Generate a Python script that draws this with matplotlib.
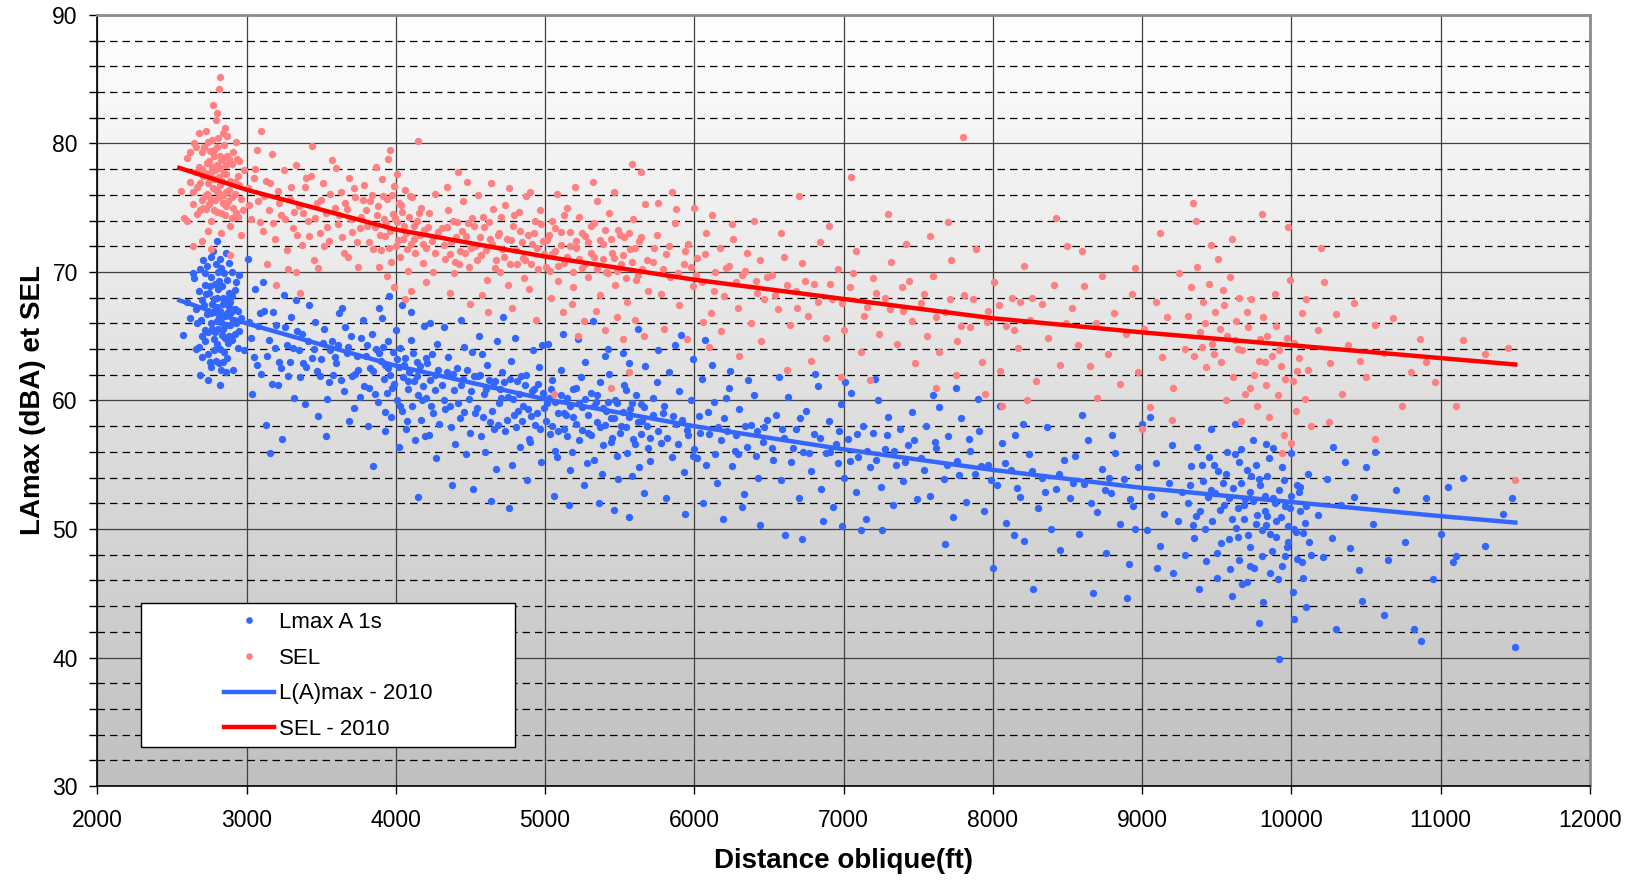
import numpy as np
import matplotlib
matplotlib.use("Agg")
import matplotlib.pyplot as plt
from matplotlib.colors import LinearSegmentedColormap
from matplotlib.patches import Rectangle
from matplotlib.ticker import MultipleLocator

plt.rcParams["font.family"] = ["Liberation Sans", "DejaVu Sans"]

# Lmax A 1s points (distance ft, dBA)
lmax_points = [
    (2620,66.4),(2650,69.5),(2680,64.2),(2700,67.8),(2710,70.9),(2720,65.5),(2730,68.3),(2740,63.6),(2750,66.9),(2760,71.2),
    (2770,67.5),(2780,64.8),(2790,69.1),(2800,66.2),(2805,72.4),(2810,68.7),(2815,62.9),(2820,67.0),(2830,70.3),(2835,65.1),
    (2840,68.0),(2850,63.8),(2855,66.6),(2860,71.5),(2870,69.4),(2875,64.5),(2880,67.3),(2890,65.9),(2900,70.0),(2910,62.4),
    (2920,68.6),(2930,66.0),(2940,64.1),(2950,69.8),(2690,62.0),(2745,61.6),(2795,63.1),(2825,61.2),(2865,62.2),(2660,67.1),
    (2725,69.9),(2765,66.0),(2785,67.9),(2845,65.6),(2885,68.4),(2925,67.1),(2705,65.0),(2755,68.9),(2815,66.5),(2575,65.1),
    (2600,67.7),(2640,69.9),(2960,66.4),(2980,63.9),(2870,66.8),(2790,65.3),(2735,66.7),(2810,70.0),(2850,67.7),(2895,66.9),
    (2660,64.0),(2670,66.0),(2680,68.5),(2690,70.2),(2695,66.3),(2700,63.4),(2715,67.4),(2720,69.0),(2725,64.6),(2735,70.5),
    (2740,67.0),(2745,65.3),(2750,68.4),(2755,63.0),(2760,66.8),(2765,69.6),(2770,65.6),(2775,71.6),(2780,67.0),(2785,63.9),
    (2790,66.9),(2795,70.6),(2800,68.0),(2800,64.4),(2805,67.3),(2810,65.6),(2815,69.3),(2820,64.0),(2825,71.0),(2830,66.1),
    (2835,68.9),(2840,63.0),(2845,67.5),(2850,69.9),(2855,64.9),(2860,67.9),(2865,65.9),(2870,63.3),(2880,70.7),(2885,65.0),
    (2890,67.7),(2900,64.7),(2905,68.1),(2910,66.3),(2920,65.2),(2930,69.2),(2940,67.0),(2950,65.4),(2830,62.4),(2760,62.6),
    (3020,66.1),(3050,63.4),(3080,65.8),(3100,62.1),(3120,67.0),(3150,64.7),(3170,61.3),(3200,65.9),(3220,63.0),(3250,68.2),
    (3270,64.3),(3300,66.5),(3320,60.2),(3350,63.9),(3370,65.2),(3400,62.6),(3420,67.4),(3450,64.0),(3480,58.8),(3500,63.2),
    (3520,65.6),(3550,61.4),(3570,64.6),(3600,62.9),(3620,66.8),(3650,60.7),(3670,63.7),(3700,65.0),(3720,59.4),(3750,62.4),
    (3770,64.9),(3790,61.1),(3040,60.5),(3130,58.1),(3180,66.9),(3280,61.9),(3330,67.8),(3390,59.7),(3460,66.1),(3530,57.2),
    (3580,62.0),(3640,67.2),(3690,58.4),(3740,63.5),(3060,68.7),(3110,69.2),(3230,62.5),(3310,64.1),(3360,61.8),(3440,63.3),
    (3490,61.9),(3560,63.9),(3610,64.3),(3660,65.7),(3710,61.9),(3780,66.3),(3160,55.9),(3240,57.0),(3850,54.9),(3010,71.0),
    (3030,64.9),(3070,62.8),(3090,66.8),(3140,63.5),(3190,64.1),(3210,61.2),(3260,65.7),(3290,63.0),(3340,65.4),(3380,62.9),
    (3410,64.6),(3470,62.3),(3510,64.5),(3540,60.1),(3590,63.4),(3630,61.6),(3680,64.2),(3730,62.1),(3760,60.3),(3810,64.3),
    (3830,62.5),(3860,60.5),(3890,63.7),(3915,64.2),(3945,62.5),(3975,61.0),(4005,63.2),(4025,59.6),(4055,62.8),(4085,61.5),
    (4115,63.7),(4145,61.9),(4175,60.0),(4205,63.3),(4235,59.6),(4265,62.0),(3925,59.1),(4075,58.4),(3815,58.0),(4195,57.2),
    (3800,63.5),(3820,61.0),(3840,65.2),(3850,62.3),(3870,64.0),(3880,59.9),(3900,63.1),(3910,66.4),(3920,61.7),(3930,62.8),
    (3940,60.6),(3950,64.6),(3960,62.0),(3970,58.7),(3980,63.8),(3990,61.3),(4000,65.5),(4010,60.0),(4020,62.6),(4030,64.1),
    (4040,59.2),(4050,61.8),(4060,63.3),(4070,57.8),(4080,60.9),(4090,62.2),(4100,64.7),(4110,59.6),(4120,61.5),(4130,56.9),
    (4140,63.0),(4150,60.4),(4160,62.7),(4170,58.5),(4180,61.1),(4190,65.8),(4200,60.2),(4210,62.9),(4220,57.3),(4230,61.6),
    (4240,63.6),(4250,59.0),(4260,60.8),(4270,55.5),(4280,62.4),(4290,58.2),(3890,67.2),(3955,68.1),(4045,67.4),(4105,66.9),
    (4150,52.5),(4020,56.4),(3930,57.6),(4230,66.0),(4275,64.4),
    (4310,61.2),(4330,59.3),(4350,63.4),(4370,57.9),(4390,60.8),(4410,62.5),(4430,58.6),(4450,61.7),(4470,55.8),(4490,60.1),
    (4510,63.8),(4530,59.0),(4550,61.9),(4570,57.2),(4590,60.5),(4610,62.8),(4630,58.3),(4650,61.1),(4670,54.7),(4690,59.8),
    (4710,62.2),(4730,57.6),(4750,60.3),(4770,63.1),(4790,58.9),(4810,61.5),(4830,56.4),(4850,59.6),(4870,62.0),(4890,57.0),
    (4910,60.7),(4930,58.1),(4950,61.3),(4970,55.2),(4990,59.4),(4320,65.7),(4440,66.3),(4560,65.0),(4680,64.6),(4800,64.9),
    (4920,63.9),(4380,53.4),(4520,53.1),(4640,52.2),(4760,51.6),(4880,53.8),(4400,56.6),(4600,56.0),(4700,60.9),(4820,59.2),
    (4460,64.2),(4580,63.6),(4720,66.5),(4840,61.9),(4960,62.6),(4500,57.5),(4660,57.8),(4780,55.0),(4900,56.8),(4980,64.3),
    (4320,60.0),(4345,62.2),(4365,59.6),(4385,62.1),(4415,59.8),(4435,61.2),(4455,59.1),(4480,62.4),(4505,60.7),(4525,61.9),
    (4545,59.4),(4565,62.0),(4585,58.7),(4605,60.9),(4625,61.6),(4645,59.2),(4665,61.5),(4685,58.1),(4705,60.2),(4725,61.4),
    (4745,58.5),(4765,61.7),(4785,60.1),(4805,57.9),(4825,60.5),(4845,58.4),(4865,61.2),(4885,59.3),(4905,58.8),(4925,60.9),
    (4945,59.0),(4965,57.8),(4985,60.6),(5005,58.4),(5025,60.2),(5045,58.0),(5065,59.9),(5085,57.6),(5105,60.4),(5125,59.0),
    (5145,57.2),(5165,59.6),(5185,60.9),(5205,58.2),(5225,59.8),(5245,57.7),(5265,60.1),(5285,58.9),(5305,57.3),(5325,59.6),
    (5345,60.4),(5365,57.9),(5385,59.4),(5405,58.1),(5425,59.9),(5445,56.8),(5465,58.6),(5485,59.8),(5505,57.5),(5525,59.1),
    (5545,57.9),(5565,58.7),(5585,59.8),(5605,56.6),(5625,58.3),(5645,57.4),(5665,59.5),(5685,58.0),(5705,57.1),(5725,60.2),
    (5760,57.6),(5790,59.0),(5820,57.1),(5860,58.8),(5890,56.6),(5920,58.5),(5960,57.3),(5990,55.7),
    (5010,59.8),(5030,57.4),(5050,61.6),(5070,56.1),(5090,59.0),(5110,62.4),(5130,57.8),(5150,60.2),(5170,54.6),(5190,58.7),
    (5210,61.0),(5230,56.9),(5250,59.5),(5270,63.0),(5290,57.5),(5310,60.6),(5330,55.4),(5350,58.3),(5370,61.4),(5390,56.5),
    (5410,59.2),(5430,62.1),(5450,57.1),(5470,60.0),(5490,53.9),(5510,58.0),(5530,61.2),(5550,55.9),(5570,59.3),(5590,57.0),
    (5610,60.4),(5630,54.8),(5650,58.4),(5670,62.7),(5690,56.3),(5020,64.4),(5120,65.2),(5220,64.8),(5320,66.2),(5420,64.0),
    (5520,63.7),(5620,65.6),(5060,52.6),(5160,51.9),(5260,53.4),(5360,52.0),(5460,51.5),(5560,50.9),(5660,52.8),(5080,55.6),
    (5180,56.0),(5280,55.1),(5380,54.3),(5480,55.7),(5580,54.1),(5040,60.9),(5140,58.9),(5240,61.8),(5340,59.9),(5440,58.6),
    (5540,60.8),(5640,59.7),(5700,55.3),(5560,62.9),(5400,63.5),
    (5720,58.9),(5750,61.4),(5780,56.7),(5800,59.6),(5830,62.2),(5850,55.6),(5880,58.2),(5900,60.7),(5930,54.4),(5950,57.7),
    (5980,60.0),(6000,56.2),(6030,58.8),(6050,61.7),(6080,55.0),(6100,57.4),(6130,59.9),(6150,53.6),(6180,56.9),(6200,58.6),
    (6230,61.0),(6250,54.9),(6280,57.3),(6300,59.3),(6330,52.7),(6350,56.4),(6380,58.1),(6400,60.4),(6430,54.0),(6460,56.8),
    (6490,58.5),(5760,63.9),(5870,64.3),(5990,63.2),(6120,62.8),(6240,62.3),(6360,61.6),(5810,52.4),(5940,51.2),(6060,52.0),
    (6190,50.8),(6320,51.7),(6440,50.3),(5910,65.1),(6070,64.7),(6210,60.2),(6020,55.5),(6160,57.9),(6290,55.8),(6420,57.6),
    (6040,57.5),(6090,59.1),(6140,55.8),(6220,57.6),(6270,56.1),(6340,58.0),(6410,55.7),(6470,57.9),(6530,55.4),(6590,57.8),
    (6660,56.3),(6710,58.6),(6770,55.9),(6840,57.1),(6910,56.0),(6970,57.6),(7040,55.3),(7090,57.4),(7160,56.1),(7220,55.4),
    (7290,57.3),(7340,56.1),(7410,55.2),(7470,56.9),(7540,54.6),(7620,56.3),(7690,55.0),(7770,54.2),(7840,57.0),(7920,54.9),
    (7990,53.8),(8080,55.1),(8160,53.2),(8260,54.5),(8350,52.9),(8440,54.3),(8540,53.6),(8660,52.0),(8780,54.0),(8920,52.3),
    (6520,56.3),(6550,58.9),(6580,53.8),(6600,57.1),(6630,60.3),(6650,55.2),(6680,57.8),(6700,52.4),(6730,56.0),(6750,59.2),
    (6780,54.5),(6800,57.4),(6830,61.1),(6850,53.1),(6880,55.9),(6900,58.4),(6930,51.7),(6950,56.6),(6980,59.7),(7000,54.0),
    (7030,57.0),(7050,60.6),(7080,52.9),(7100,55.6),(7130,58.0),(7150,50.8),(7180,54.8),(7200,57.5),(7230,60.0),(7250,53.3),
    (7280,56.2),(7300,58.7),(7330,51.9),(7350,55.0),(7380,57.8),(7400,53.7),(7430,56.5),(7460,59.1),(7490,52.3),(6610,49.5),
    (6720,49.2),(6860,50.6),(6990,50.2),(7120,49.9),(7260,49.9),(6570,61.8),(6810,62.1),(7010,61.4),(7210,61.7),(6960,55.1),
    (7520,55.5),(7550,58.0),(7580,52.6),(7610,56.8),(7640,59.5),(7670,53.9),(7700,57.2),(7730,50.9),(7760,55.3),(7790,58.6),
    (7820,52.1),(7850,56.1),(7880,54.3),(7910,57.6),(7940,51.4),(7970,55.0),(8000,47.0),(8030,53.4),(8060,56.7),(8090,50.5),
    (8120,54.6),(8150,57.3),(8180,52.5),(8210,49.1),(8240,55.8),(8270,45.3),(8300,51.6),(8330,54.0),(8360,57.9),(8390,50.0),
    (8420,53.1),(8450,48.4),(8480,55.4),(7600,60.4),(7750,61.0),(7900,60.1),(8050,59.6),(8200,58.2),(7680,48.8),(8140,49.5),
    (8520,52.4),(8550,55.7),(8580,49.6),(8610,53.5),(8640,56.9),(8670,45.0),(8700,51.3),(8730,54.7),(8760,48.1),(8790,52.8),
    (8820,55.9),(8850,50.4),(8880,53.9),(8910,47.3),(8940,51.8),(8970,54.8),(9000,58.2),(9030,49.9),(9060,52.6),(9090,55.1),
    (9120,48.7),(9150,51.2),(9180,53.6),(9210,46.6),(9240,50.6),(9270,52.9),(9290,48.0),(8600,58.9),(8800,57.3),(9050,58.7),
    (8900,44.6),(9100,47.0),(8750,53.0),(9200,56.5),(8950,50.0),
    (9310,52.0),(9330,54.9),(9350,49.3),(9370,56.4),(9390,51.4),(9410,53.7),(9430,47.5),(9450,55.6),(9470,50.6),(9490,52.8),
    (9510,54.5),(9530,48.9),(9550,51.9),(9570,56.0),(9590,46.9),(9610,53.2),(9630,50.1),(9650,55.2),(9670,45.7),(9690,52.3),
    (9710,49.5),(9730,54.1),(9750,47.0),(9770,51.1),(9790,53.4),(9810,44.3),(9830,50.3),(9850,55.5),(9870,48.3),(9890,52.0),
    (9910,46.1),(9930,50.9),(9950,53.8),(9970,48.6),(9990,51.6),(10010,45.1),(10030,49.8),(10050,52.9),(10070,47.4),(10090,50.5),
    (10110,54.3),(10130,48.0),(9920,39.9),(9780,42.7),(10020,43.0),(10100,43.9),(9650,47.6),(9860,46.6),(9740,56.9),(9460,57.8),
    (9580,49.2),(9680,50.8),(9820,52.6),(9960,47.9),(10060,51.4),(9380,45.3),(9500,46.2),(9620,58.2),(9880,56.3),(10000,55.9),
    (9340,50.3),(9440,52.5),(9540,53.6),(9640,51.6),(9720,52.9),(9800,49.9),(9840,51.0),(9900,49.4),(9940,54.8),(9980,50.2),
    (10040,53.4),(9760,55.0),(9600,44.8),(9700,45.9),(10080,46.2),
    (9320,53.4),(9360,51.0),(9400,55.0),(9420,50.0),(9460,53.0),(9480,55.0),(9520,51.5),(9560,54.3),(9580,52.4),(9600,50.8),
    (9620,55.8),(9640,49.4),(9660,53.6),(9680,51.9),(9700,54.6),(9720,48.6),(9740,52.2),(9760,50.4),(9780,53.9),(9800,47.9),
    (9820,51.4),(9840,54.1),(9860,49.6),(9880,52.4),(9900,50.6),(9920,53.0),(9940,47.1),(9960,51.8),(9980,49.0),(10000,52.6),
    (10020,50.0),(10040,47.7),(10060,53.3),(10080,49.7),(10100,51.8),(10120,49.0),(9660,56.2),(9830,56.6),(9500,48.1),(9720,47.1),
    (10180,51.1),(10210,47.8),(10240,53.9),(10270,49.3),(10300,42.2),(10330,51.9),(10360,55.2),(10390,48.5),(10420,52.5),(10450,46.8),
    (10500,54.8),(10550,50.4),(10620,43.3),(10650,47.6),(10700,53.0),(10760,49.0),(10820,42.2),(10870,41.3),(10900,52.4),(10950,46.1),
    (11000,49.6),(11080,47.4),(11150,54.0),(11300,48.7),(11420,51.2),(11480,52.4),(11500,40.8),(10280,56.4),(10560,56.0),(11100,47.9),
    (11050,53.3),(10470,44.4),
]

# SEL points (distance ft, dBA)
sel_points = [
    (2560,76.3),(2580,74.2),(2600,78.9),(2620,77.0),(2640,75.3),(2650,80.0),(2670,76.6),(2680,78.2),(2690,74.8),(2700,79.3),
    (2710,77.5),(2720,75.9),(2730,81.0),(2740,76.9),(2750,78.6),(2760,74.0),(2770,80.3),(2780,77.2),(2790,75.6),(2800,79.7),
    (2805,82.4),(2810,76.2),(2815,84.2),(2820,78.1),(2825,85.2),(2830,74.6),(2840,80.8),(2850,77.7),(2860,75.1),(2870,79.0),
    (2880,76.4),(2890,73.6),(2900,78.4),(2910,75.0),(2920,77.0),(2930,80.1),(2940,74.3),(2950,76.8),(2960,72.9),(2980,77.9),
    (2700,72.4),(2760,71.8),(2830,73.0),(2890,71.3),(2600,74.0),(2660,79.7),(2735,76.1),(2785,79.0),(2845,76.0),(2795,81.8),
    (2775,83.0),(2865,78.3),(2705,75.6),(2745,73.2),(2815,77.4),(2855,81.2),(2935,78.8),(2640,72.0),(2905,74.2),(2755,77.4),
    (2620,79.3),(2640,76.2),(2660,77.8),(2670,74.5),(2680,80.8),(2690,76.9),(2700,78.0),(2710,75.0),(2715,79.7),(2720,77.7),
    (2730,74.9),(2735,78.5),(2740,80.1),(2745,76.0),(2750,75.3),(2755,79.4),(2760,77.8),(2765,75.7),(2770,78.2),(2775,76.5),
    (2780,79.5),(2785,74.8),(2790,77.9),(2795,76.4),(2800,78.3),(2805,74.7),(2810,80.4),(2815,75.8),(2820,79.0),(2825,76.8),
    (2830,78.7),(2835,77.1),(2840,75.4),(2845,78.9),(2850,79.9),(2855,74.4),(2860,77.6),(2865,76.2),(2870,80.6),(2875,75.5),
    (2880,78.8),(2890,77.1),(2900,75.8),(2910,79.3),(2920,76.1),(2930,74.6),(2940,77.5),(2950,78.6),(2960,75.7),(2975,74.8),
    (3010,76.5),(3030,74.1),(3060,78.0),(3080,75.5),(3100,81.0),(3110,73.2),(3130,77.1),(3150,74.8),(3170,79.2),(3190,72.6),
    (3210,76.3),(3230,74.4),(3250,77.9),(3270,71.7),(3290,75.7),(3310,73.4),(3330,78.3),(3350,75.1),(3370,72.1),(3390,76.6),
    (3410,74.0),(3430,77.5),(3450,70.9),(3470,75.4),(3490,73.0),(3510,76.9),(3530,74.6),(3550,72.4),(3570,78.7),(3590,75.0),
    (3610,73.7),(3630,76.2),(3650,71.5),(3670,74.9),(3690,77.3),(3710,73.1),(3730,75.8),(3750,70.4),(3770,74.3),(3790,76.8),
    (3070,79.5),(3140,70.6),(3200,69.0),(3280,70.2),(3360,68.4),(3440,79.8),(3520,72.0),(3600,78.1),(3680,71.2),(3760,73.4),
    (3330,70.0),(3480,70.3),
    (3020,75.2),(3050,77.3),(3090,73.9),(3120,75.9),(3160,76.9),(3180,73.8),(3220,75.4),(3260,74.1),(3300,76.6),(3320,74.7),
    (3340,72.9),(3380,74.6),(3400,77.3),(3420,72.8),(3460,74.2),(3500,75.6),(3540,73.5),(3560,76.1),(3620,74.4),(3640,72.7),
    (3660,75.4),(3700,74.1),(3720,76.5),(3740,72.3),(3780,75.6),(3810,73.6),(3830,75.5),(3850,71.8),(3875,74.4),(3895,72.9),
    (3915,75.9),(3935,73.8),(3955,71.9),(3975,76.0),(3995,74.2),(4015,72.5),(4035,75.2),(4055,73.6),(4075,71.8),(4095,75.9),
    (4125,72.6),(4155,74.6),(4185,72.2),(4215,73.5),(4265,71.5),
    (3800,74.8),(3820,72.3),(3840,76.0),(3860,73.5),(3880,75.1),(3900,71.7),(3910,77.2),(3920,74.1),(3930,72.8),(3940,75.7),
    (3950,78.8),(3960,73.2),(3970,70.8),(3980,74.5),(3990,76.7),(4000,72.0),(4010,73.9),(4020,75.4),(4030,71.2),(4040,74.7),
    (4050,72.6),(4060,76.4),(4070,73.0),(4080,70.1),(4090,74.3),(4100,72.2),(4110,75.8),(4120,73.6),(4130,71.5),(4140,74.0),
    (4150,80.2),(4160,72.9),(4170,75.0),(4180,70.7),(4190,73.3),(4200,71.9),(4220,74.6),(4240,72.4),(4260,76.1),(4280,73.1),
    (3870,78.2),(3960,79.5),(4010,77.6),(3940,69.7),(4100,68.5),(4060,67.9),(4200,69.2),(3890,70.4),(3990,68.8),(4250,70.0),
    (4310,73.4),(4330,71.0),(4350,74.8),(4370,72.3),(4390,69.9),(4410,73.9),(4430,71.6),(4450,75.5),(4470,72.8),(4490,70.4),
    (4510,74.2),(4530,72.0),(4550,76.0),(4570,71.3),(4590,73.5),(4610,69.4),(4630,72.6),(4650,74.9),(4670,70.9),(4690,73.0),
    (4710,71.8),(4730,75.2),(4750,69.0),(4770,72.5),(4790,74.4),(4810,70.6),(4830,73.2),(4850,71.1),(4870,75.9),(4890,68.7),
    (4910,72.2),(4930,74.0),(4950,70.2),(4970,73.7),(4990,71.4),(4340,76.6),(4480,77.0),(4640,76.9),(4760,76.5),(4900,76.2),
    (4360,68.4),(4500,67.5),(4620,66.9),(4780,67.2),(4940,66.3),(4420,77.8),(4700,70.0),(4860,69.5),(4580,68.2),(4400,70.8),
    (4320,72.1),(4345,73.5),(4365,71.4),(4385,74.0),(4405,72.7),(4425,70.6),(4445,73.2),(4465,71.5),(4485,73.8),(4505,71.9),
    (4525,73.6),(4545,70.9),(4565,72.7),(4585,74.3),(4605,71.7),(4625,73.9),(4645,72.2),(4665,70.3),(4685,72.9),(4705,74.3),
    (4725,71.2),(4745,72.6),(4765,70.6),(4785,73.6),(4805,71.7),(4825,74.7),(4845,72.3),(4865,70.9),(4885,72.9),(4905,70.6),
    (4925,73.0),(4945,71.9),(4965,74.8),(4985,72.4),(5005,70.4),(5025,72.9),(5045,71.4),(5065,73.4),(5085,70.5),(5105,72.1),
    (5125,74.4),(5145,71.2),(5165,73.1),(5185,70.0),(5205,72.4),(5225,71.0),(5245,73.0),(5265,70.6),(5285,72.3),(5305,71.5),
    (5325,73.8),(5345,70.2),(5365,72.5),(5385,71.0),(5405,73.3),(5425,69.9),(5445,72.6),(5465,71.1),(5485,70.1),(5505,72.9),
    (5525,71.3),(5545,69.5),(5565,73.0),(5585,70.8),(5605,71.9),(5625,69.8),(5645,72.7),(5685,70.9),(5730,71.9),(5790,70.2),
    (5830,72.0),(5890,69.9),(5940,71.6),(5980,70.4),
    (5010,72.5),(5030,70.1),(5050,74.0),(5070,71.6),(5090,69.3),(5110,73.1),(5130,70.7),(5150,75.0),(5170,72.0),(5190,68.8),
    (5210,71.9),(5230,74.3),(5250,70.3),(5270,72.8),(5290,69.6),(5310,73.6),(5330,71.2),(5350,75.5),(5370,68.2),(5390,72.2),
    (5410,70.0),(5430,74.6),(5450,71.5),(5470,69.0),(5490,73.3),(5510,70.6),(5530,72.7),(5550,67.7),(5570,71.8),(5590,74.1),
    (5610,69.4),(5630,72.4),(5650,70.2),(5670,75.3),(5690,68.5),(5080,76.1),(5200,76.6),(5320,77.0),(5460,76.2),(5580,78.4),
    (5640,77.8),(5120,66.9),(5260,66.2),(5400,65.5),(5520,64.8),(5660,65.0),(5040,68.0),(5180,67.5),(5340,67.0),(5480,66.5),
    (5600,66.3),(5220,65.0),(5560,62.2),(5440,61.0),(5060,60.5),
    (5720,70.8),(5750,72.9),(5780,68.3),(5810,71.4),(5840,69.6),(5870,73.8),(5900,67.4),(5930,70.6),(5960,72.2),(5990,68.9),
    (6020,71.1),(6050,69.2),(6080,73.0),(6110,66.8),(6140,70.0),(6170,71.9),(6200,68.1),(6230,70.5),(6260,72.6),(6290,67.2),
    (6320,69.8),(6350,71.5),(6380,66.0),(6410,69.3),(6440,70.9),(6470,67.9),(5760,75.4),(5880,74.9),(6000,75.0),(6120,74.4),
    (6250,73.7),(6400,74.0),(5800,65.6),(5950,64.8),(6100,64.2),(6300,63.5),(6450,64.6),(6060,66.1),(6180,65.4),(5850,76.2),
    (6010,69.8),(6070,71.4),(6130,68.5),(6210,70.3),(6280,69.2),(6340,70.1),(6420,68.4),(6490,69.6),(6540,68.2),(6620,69.0),
    (6690,67.2),(6740,69.3),(6830,67.7),(6910,69.1),(6990,67.6),(7060,69.9),(7140,66.6),(7220,68.4),(7310,67.1),(7390,68.8),
    (7460,66.2),(7540,68.3),(7620,66.5),(7710,67.9),(7790,65.8),(7870,67.9),(7960,66.1),(8040,67.4),(8140,65.5),(8260,68.0),
    (6520,69.8),(6560,67.1),(6600,71.2),(6640,65.9),(6680,68.5),(6720,70.7),(6760,66.6),(6800,69.1),(6840,72.3),(6880,64.9),
    (6920,67.9),(6960,70.2),(7000,65.5),(7040,68.8),(7080,71.6),(7120,63.8),(7160,67.3),(7200,69.5),(7240,65.2),(7280,68.0),
    (7320,70.8),(7360,64.4),(7400,67.0),(7440,69.3),(7480,62.9),(6700,75.9),(7050,77.4),(6580,73.0),(6900,73.6),(7300,74.5),
    (6620,62.4),(6980,61.8),(7180,61.6),(7420,72.2),(6780,63.1),
    (7520,67.6),(7560,65.0),(7600,69.7),(7640,63.8),(7680,66.9),(7720,70.9),(7760,64.6),(7800,80.5),(7810,68.2),(7850,65.7),
    (7890,71.8),(7930,63.0),(7970,67.0),(8010,69.2),(8050,62.3),(8090,65.8),(8130,68.0),(8170,64.1),(8210,70.5),(8250,66.3),
    (8290,61.5),(8330,67.5),(8370,64.9),(8410,69.0),(8450,62.8),(8490,66.0),(7580,72.8),(7700,73.9),(8180,67.7),(8420,74.2),
    (7620,61.0),(7950,60.5),(8230,60.0),(8500,72.0),(7750,62.0),(8060,59.6),
    (8530,67.2),(8570,64.3),(8610,68.9),(8650,62.7),(8690,66.0),(8730,69.7),(8770,63.6),(8810,66.8),(8850,61.3),(8890,65.2),
    (8930,68.3),(8970,62.2),(9010,65.6),(9050,59.5),(9090,67.7),(9130,63.4),(9170,66.5),(9210,61.0),(9250,69.9),(9290,64.0),
    (8600,71.6),(8950,70.3),(9120,73.0),(8700,60.2),(9000,57.8),(9200,58.5),
    (9310,66.6),(9330,68.8),(9350,63.5),(9370,70.4),(9390,65.3),(9410,67.7),(9430,62.6),(9450,69.1),(9470,64.4),(9490,66.9),
    (9510,71.0),(9530,63.0),(9550,67.4),(9570,65.0),(9590,69.6),(9610,61.8),(9630,66.2),(9650,68.0),(9670,63.9),(9690,60.5),
    (9710,65.7),(9730,67.9),(9750,62.0),(9770,59.6),(9790,64.8),(9810,66.5),(9830,61.2),(9850,58.7),(9870,63.5),(9890,68.3),
    (9910,60.4),(9930,62.7),(9950,57.3),(9970,64.9),(9990,69.4),(10010,61.5),(10030,59.2),(10050,63.3),(10070,66.8),(10090,60.1),
    (10110,62.4),(10130,58.0),(9340,75.4),(9360,74.0),(9800,74.5),(9460,72.1),(9600,72.6),(9980,73.5),(10000,56.7),(9940,55.9),
    (9400,64.2),(9520,65.6),(9640,64.0),(9720,61.0),(9820,63.0),(9900,65.8),(10020,64.5),(10100,67.9),(9560,60.0),(9660,58.4),
    (9420,66.0),(9480,63.6),(9540,68.6),(9620,64.7),(9700,66.9),(9780,63.1),(9840,65.0),(9920,63.9),(9960,61.7),(10040,62.3),
    (10180,65.5),(10220,69.2),(10260,62.9),(10300,66.7),(10340,60.5),(10380,64.3),(10420,67.6),(10460,63.1),(10500,61.8),(10560,65.9),
    (10620,63.7),(10680,66.4),(10740,59.6),(10800,62.2),(10860,64.8),(10900,63.0),(10960,61.4),(11100,59.6),(11150,64.7),(11300,63.6),
    (11450,64.1),(11500,53.8),(10200,71.9),(10250,58.3),(10560,57.0),
]

# 2010 trend curves, read at a few distances
trend_x = [2550, 3000, 4000, 5000, 6000, 7000, 8000, 9000, 10000, 11000, 11500]
lmax_trend = [67.8, 66.0, 62.7, 60.1, 58.0, 56.2, 54.6, 53.2, 52.1, 51.0, 50.5]
sel_trend = [78.1, 76.4, 73.3, 71.2, 69.4, 67.9, 66.4, 65.3, 64.3, 63.3, 62.8]

BLUE = "#3366FF"
PINK = "#FF8080"
RED = "#FF0000"

fig = plt.figure(figsize=(16.26, 8.8), dpi=100)
ax = fig.add_axes([0.0598, 0.1068, 0.918, 0.8762])

# grey gradient plot area
grad = LinearSegmentedColormap.from_list("bg", ["#c0c0c0", "#ffffff"])
ax.imshow(np.linspace(0, 1, 256)[:, None], extent=[0, 1, 0, 1], origin="lower",
          transform=ax.transAxes, cmap=grad, aspect="auto", zorder=0)

lx, ly = zip(*lmax_points)
sx, sy = zip(*sel_points)
ax.plot(lx, ly, "o", color=BLUE, ms=5.3, mew=0, zorder=3, label="Lmax A 1s")
ax.plot(sx, sy, "o", color=PINK, ms=5.3, mew=0, zorder=3, label="SEL")
ax.plot(trend_x, lmax_trend, color=BLUE, lw=3.2, zorder=4, label="L(A)max - 2010")
ax.plot(trend_x, sel_trend, color=RED, lw=3.2, zorder=4, label="SEL - 2010")

ax.set_xlim(2000, 12000)
ax.set_ylim(30, 90)
ax.xaxis.set_major_locator(MultipleLocator(1000))
ax.yaxis.set_major_locator(MultipleLocator(10))
ax.yaxis.set_minor_locator(MultipleLocator(2))

ax.set_axisbelow(True)
ax.grid(which="major", axis="both", color="#404040", lw=0.9, ls="-", zorder=1)
ax.grid(which="minor", axis="y", color="black", lw=0.9, ls=(0, (6, 4)), zorder=1)

ax.tick_params(axis="both", which="both", direction="out", length=6, width=1,
               labelsize=16.5, colors="black")
ax.tick_params(axis="x", pad=10.5)
ax.tick_params(axis="y", pad=8)

for side in ["left", "bottom"]:
    ax.spines[side].set_color("black")
    ax.spines[side].set_linewidth(1.2)
for side in ["top", "right"]:
    ax.spines[side].set_color("#8c8c8c")
    ax.spines[side].set_linewidth(2)

ax.set_xlabel("Distance oblique(ft)", fontsize=20, fontweight="bold")
ax.set_ylabel("LAmax (dBA) et SEL", fontsize=20, fontweight="bold")
ax.xaxis.set_label_coords(0.5, -0.097)
ax.yaxis.set_label_coords(-0.043, 0.5)
ax.xaxis.label.set_va("center")
ax.yaxis.label.set_va("center")

# legend: white box with entries centred in it
ax.add_patch(Rectangle((0.0293, 0.051), 0.2506, 0.1868, transform=ax.transAxes,
                       facecolor="white", edgecolor="black", lw=1, zorder=6))
leg = ax.legend(loc="center", bbox_to_anchor=(0.1546, 0.1427), frameon=False,
                fontsize=16, numpoints=1, handlelength=2.25, handletextpad=0.22,
                labelspacing=0.66, markerscale=0.9)
leg.set_zorder(7)

fig.savefig("out.png", dpi=100)
